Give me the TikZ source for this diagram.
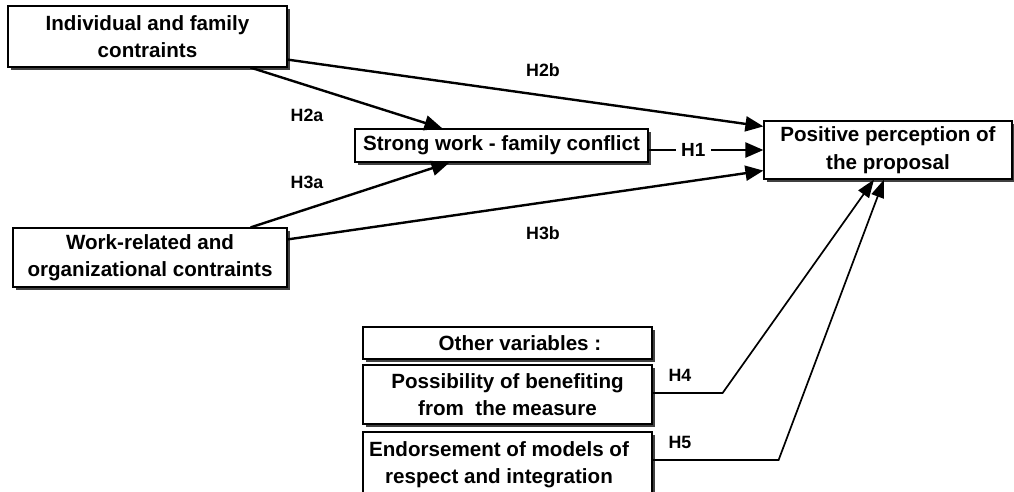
\documentclass[tikz,border=0pt]{standalone}
\usepackage{fontspec}
\setmainfont{Liberation Sans}
\usetikzlibrary{arrows.meta,shadows,calc}
\newcommand\boxfont{\bfseries\fontsize{20.6}{27.5}\selectfont}
\newcommand\labfont{\bfseries\fontsize{17.8}{20}\selectfont}
\begin{document}
\begin{tikzpicture}[x=1pt,y=-1pt,
  box/.style={draw, line width=1.2pt, fill=white, inner sep=0pt, align=center, font=\boxfont,
    general shadow={fill=black!75, shadow xshift=2.5pt, shadow yshift=-2.5pt}},
  txt/.style={inner sep=0pt, align=center, font=\boxfont},
  lab/.style={inner sep=0pt, font=\labfont},
  con/.style={line width=2.4pt, -{Triangle[length=18pt,width=15pt]}},
  thinc/.style={line width=1.7pt, -{Triangle[length=18pt,width=13pt]}}]
\useasboundingbox (0,0) rectangle (1014,491);

\node[box, minimum width=279pt, minimum height=61pt] (b1) at (147.5,36.5) {Individual and family\\contraints};
\node[box, minimum width=293pt, minimum height=33pt] (sw) at (501.5,145.5) {Strong work - family conflict};
\node[box, minimum width=248pt, minimum height=58pt] (pp) at (888,150) {Positive perception of\\the proposal};
\node[box, minimum width=274pt, minimum height=59pt] (wr) at (150,257.5) {Work-related and\\organizational contraints};
\node[box, minimum width=289pt, minimum height=32pt] (ov) at (507.5,343) {};
\node[txt] (ovt) at (520,343) {Other variables :};
\node[box, minimum width=289pt, minimum height=59pt] (po) at (507.5,394.5) {Possibility of benefiting\\from\ \ the measure};
\node[box, minimum width=289pt, minimum height=65pt] (en) at (507.5,464.5) {};
\node[txt] (ent) at (499,464.5) {Endorsement of models of\\respect and integration};

\draw[con] ([yshift=8pt]b1.south east) -- ([yshift=-6pt]pp.north west);
\draw[con] ([xshift=-37pt]b1.south east) -- ([xshift=88pt]sw.north west);
\draw[con] ([xshift=-37pt]wr.north east) -- ([xshift=95pt]sw.south west);
\draw[con] ([yshift=-12pt]wr.north east) -- ([yshift=9pt]pp.south west);
\draw[con] (sw.east |- pp.west) -- node[pos=0.39, fill=white, inner sep=0pt, inner xsep=5pt, inner ysep=1pt, font=\bfseries\fontsize{19}{20}\selectfont] (h1) {H1} (pp.west);
\draw[thinc] ([yshift=1.5pt]po.east) -- ++(70,0) -- ([xshift=-14pt]pp.south);
\draw[thinc] ([yshift=4.5pt]en.east) -- ++(126,0) -- ([xshift=-4pt]pp.south);

\node[lab] (h2b) at (543,70) {H2b};
\node[lab] (h2a) at (307,115) {H2a};
\node[lab] (h3a) at (307,182) {H3a};
\node[lab] (h3b) at (543,233) {H3b};
\node[lab] (h4) at (680,375) {H4};
\node[lab] (h5) at (680,442) {H5};
\end{tikzpicture}
\end{document}
